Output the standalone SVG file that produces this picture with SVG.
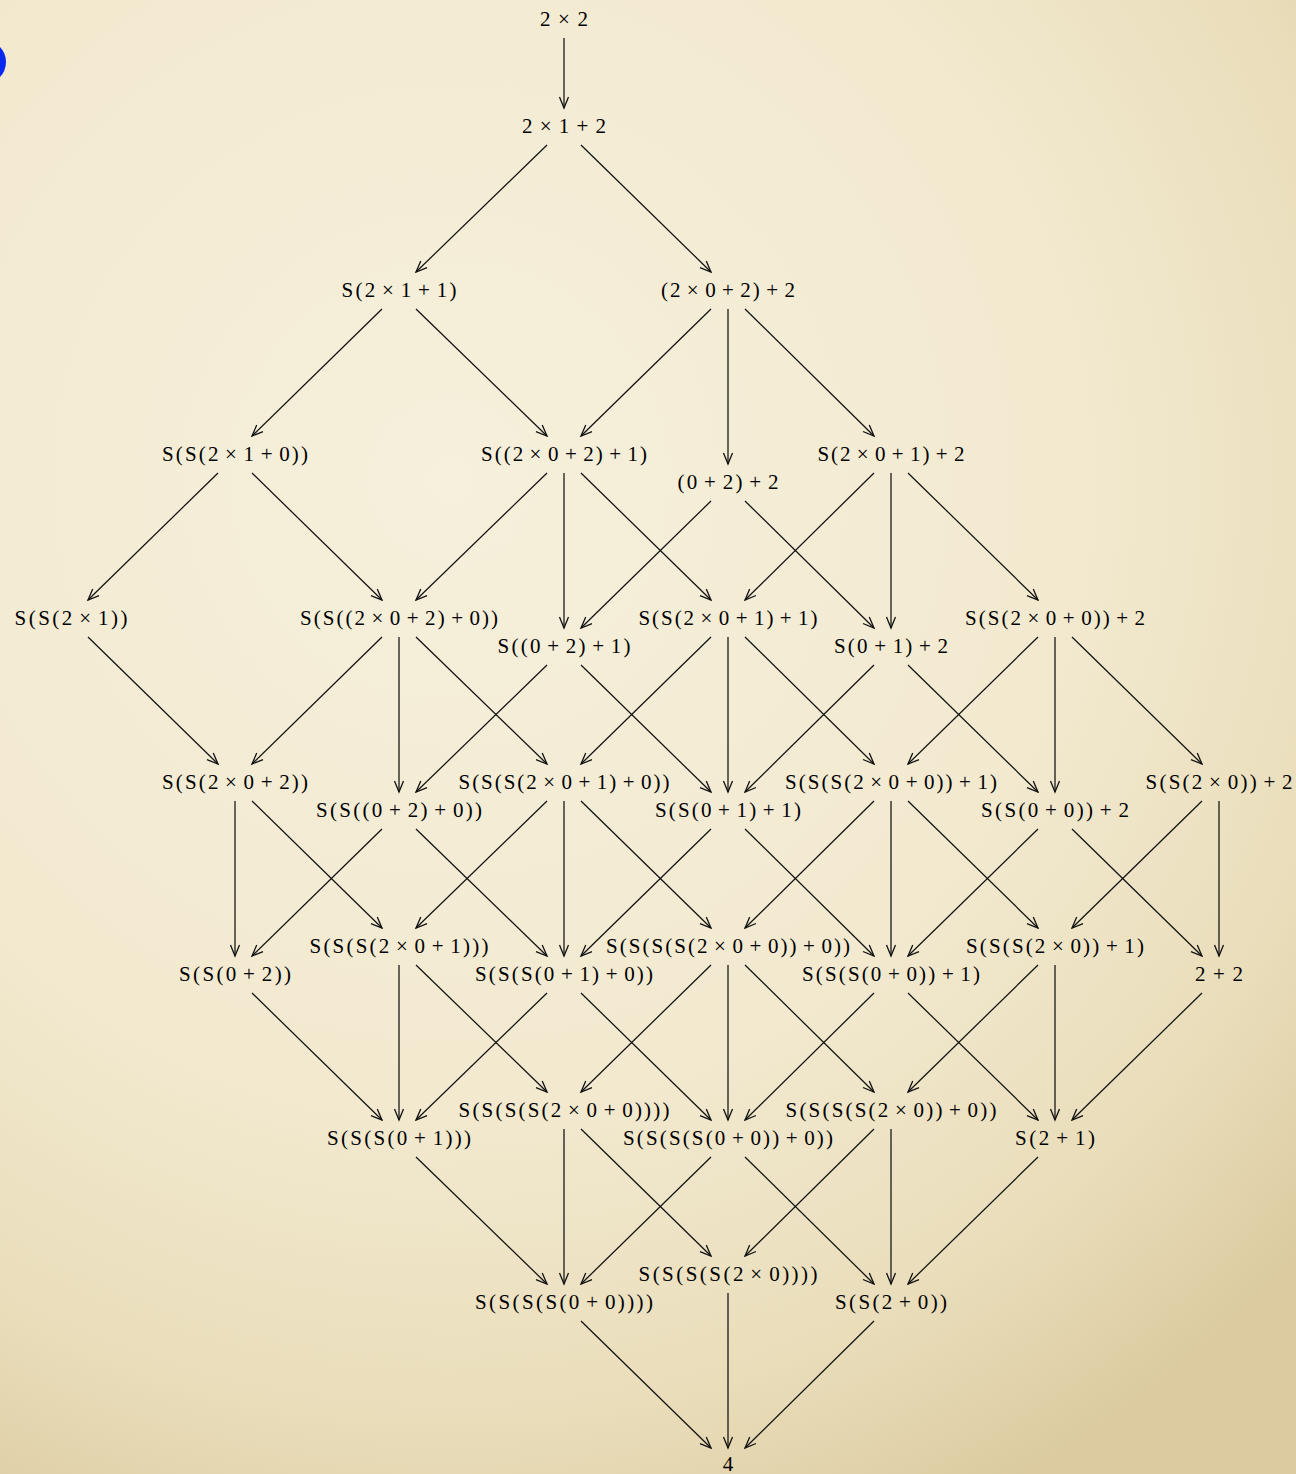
<svg xmlns="http://www.w3.org/2000/svg" width="1296" height="1474" viewBox="0 0 1296 1474">
<defs>
<radialGradient id="bg" cx="450" cy="480" r="1150" gradientUnits="userSpaceOnUse">
<stop offset="0" stop-color="#f6f0dc"/>
<stop offset="0.55" stop-color="#f2e9cf"/>
<stop offset="0.82" stop-color="#e9ddba"/>
<stop offset="1" stop-color="#dccba0"/>
</radialGradient>
<marker id="arr" viewBox="-12 -6 14 12" refX="0" refY="0" markerWidth="14" markerHeight="12" markerUnits="userSpaceOnUse" orient="auto">
<path d="M-11,-4.5 L0,0 L-11,4.5" fill="none" stroke="#111" stroke-width="1.3"/>
</marker>
<style>
text{font-family:"Liberation Serif","Times New Roman",serif;font-size:21px;fill:#000;text-anchor:middle}
.e line{stroke:#111;stroke-width:1.25;marker-end:url(#arr)}
</style>
</defs>
<rect x="0" y="0" width="1296" height="1474" fill="url(#bg)"/>
<circle cx="-16" cy="62" r="22" fill="#0a28f0"/>
<g id="connectors" class="e">
<line x1="564" y1="38" x2="564" y2="108"/>
<line x1="547" y1="145" x2="416" y2="272"/>
<line x1="581" y1="145" x2="711" y2="272"/>
<line x1="382" y1="309" x2="252" y2="436"/>
<line x1="416" y1="309" x2="547" y2="436"/>
<line x1="711" y1="309" x2="581" y2="436"/>
<line x1="728" y1="309" x2="728" y2="464"/>
<line x1="745" y1="309" x2="874" y2="436"/>
<line x1="218" y1="473" x2="88" y2="600"/>
<line x1="252" y1="473" x2="382" y2="600"/>
<line x1="547" y1="473" x2="416" y2="600"/>
<line x1="564" y1="473" x2="564" y2="628"/>
<line x1="581" y1="473" x2="711" y2="600"/>
<line x1="711" y1="501" x2="581" y2="628"/>
<line x1="745" y1="501" x2="874" y2="628"/>
<line x1="874" y1="473" x2="745" y2="600"/>
<line x1="891" y1="473" x2="891" y2="628"/>
<line x1="908" y1="473" x2="1038" y2="600"/>
<line x1="88" y1="637" x2="218" y2="764"/>
<line x1="382" y1="637" x2="252" y2="764"/>
<line x1="399" y1="637" x2="399" y2="792"/>
<line x1="416" y1="637" x2="547" y2="764"/>
<line x1="547" y1="665" x2="416" y2="792"/>
<line x1="581" y1="665" x2="711" y2="792"/>
<line x1="711" y1="637" x2="581" y2="764"/>
<line x1="728" y1="637" x2="728" y2="792"/>
<line x1="745" y1="637" x2="874" y2="764"/>
<line x1="874" y1="665" x2="745" y2="792"/>
<line x1="908" y1="665" x2="1038" y2="792"/>
<line x1="1038" y1="637" x2="908" y2="764"/>
<line x1="1055" y1="637" x2="1055" y2="792"/>
<line x1="1072" y1="637" x2="1202" y2="764"/>
<line x1="235" y1="801" x2="235" y2="956"/>
<line x1="252" y1="801" x2="382" y2="928"/>
<line x1="382" y1="829" x2="252" y2="956"/>
<line x1="416" y1="829" x2="547" y2="956"/>
<line x1="547" y1="801" x2="416" y2="928"/>
<line x1="564" y1="801" x2="564" y2="956"/>
<line x1="581" y1="801" x2="711" y2="928"/>
<line x1="711" y1="829" x2="581" y2="956"/>
<line x1="745" y1="829" x2="874" y2="956"/>
<line x1="874" y1="801" x2="745" y2="928"/>
<line x1="891" y1="801" x2="891" y2="956"/>
<line x1="908" y1="801" x2="1038" y2="928"/>
<line x1="1038" y1="829" x2="908" y2="956"/>
<line x1="1072" y1="829" x2="1202" y2="956"/>
<line x1="1202" y1="801" x2="1072" y2="928"/>
<line x1="1219" y1="801" x2="1219" y2="956"/>
<line x1="252" y1="993" x2="382" y2="1120"/>
<line x1="399" y1="965" x2="399" y2="1120"/>
<line x1="416" y1="965" x2="547" y2="1092"/>
<line x1="547" y1="993" x2="416" y2="1120"/>
<line x1="581" y1="993" x2="711" y2="1120"/>
<line x1="711" y1="965" x2="581" y2="1092"/>
<line x1="728" y1="965" x2="728" y2="1120"/>
<line x1="745" y1="965" x2="874" y2="1092"/>
<line x1="874" y1="993" x2="745" y2="1120"/>
<line x1="908" y1="993" x2="1038" y2="1120"/>
<line x1="1038" y1="965" x2="908" y2="1092"/>
<line x1="1055" y1="965" x2="1055" y2="1120"/>
<line x1="1202" y1="993" x2="1072" y2="1120"/>
<line x1="416" y1="1157" x2="547" y2="1284"/>
<line x1="564" y1="1129" x2="564" y2="1284"/>
<line x1="581" y1="1129" x2="711" y2="1256"/>
<line x1="711" y1="1157" x2="581" y2="1284"/>
<line x1="745" y1="1157" x2="874" y2="1284"/>
<line x1="874" y1="1129" x2="745" y2="1256"/>
<line x1="891" y1="1129" x2="891" y2="1284"/>
<line x1="1038" y1="1157" x2="908" y2="1284"/>
<line x1="581" y1="1321" x2="711" y2="1448"/>
<line x1="728" y1="1293" x2="728" y2="1448"/>
<line x1="874" y1="1321" x2="745" y2="1448"/>
</g>
<g id="n1"><text x="564" y="26" dx="0 4.5 4.5" textLength="48" lengthAdjust="spacing">2×2</text></g>
<g id="n2"><text x="564" y="133" dx="0 4.5 4.5 4.5 4.5" textLength="84" lengthAdjust="spacing">2×1+2</text></g>
<g id="n3"><text x="399" y="297" dx="0 0 0 4.5 4.5 4.5 4.5 0" textLength="115" lengthAdjust="spacing">S(2×1+1)</text></g>
<g id="n4"><text x="728" y="297" dx="0 0 4.5 4.5 4.5 4.5 0 4.5 4.5" textLength="134" lengthAdjust="spacing">(2×0+2)+2</text></g>
<g id="n5"><text x="235" y="461" dx="0 0 0 0 0 4.5 4.5 4.5 4.5 0 0" textLength="146" lengthAdjust="spacing">S(S(2×1+0))</text></g>
<g id="n6"><text x="564" y="461" dx="0 0 0 0 4.5 4.5 4.5 4.5 0 4.5 4.5 0" textLength="166" lengthAdjust="spacing">S((2×0+2)+1)</text></g>
<g id="n7"><text x="728" y="489" dx="0 0 4.5 4.5 0 4.5 4.5" textLength="101" lengthAdjust="spacing">(0+2)+2</text></g>
<g id="n8"><text x="891" y="461" dx="0 0 0 4.5 4.5 4.5 4.5 0 4.5 4.5" textLength="147" lengthAdjust="spacing">S(2×0+1)+2</text></g>
<g id="n9"><text x="71" y="625" dx="0 0 0 0 0 4.5 4.5 0 0" textLength="113" lengthAdjust="spacing">S(S(2×1))</text></g>
<g id="n10"><text x="399" y="625" dx="0 0 0 0 0 0 4.5 4.5 4.5 4.5 0 4.5 4.5 0 0" textLength="198" lengthAdjust="spacing">S(S((2×0+2)+0))</text></g>
<g id="n11"><text x="564" y="653" dx="0 0 0 0 4.5 4.5 0 4.5 4.5 0" textLength="133" lengthAdjust="spacing">S((0+2)+1)</text></g>
<g id="n12"><text x="728" y="625" dx="0 0 0 0 0 4.5 4.5 4.5 4.5 0 4.5 4.5 0" textLength="179" lengthAdjust="spacing">S(S(2×0+1)+1)</text></g>
<g id="n13"><text x="891" y="653" dx="0 0 0 4.5 4.5 0 4.5 4.5" textLength="114" lengthAdjust="spacing">S(0+1)+2</text></g>
<g id="n14"><text x="1055" y="625" dx="0 0 0 0 0 4.5 4.5 4.5 4.5 0 0 4.5 4.5" textLength="180" lengthAdjust="spacing">S(S(2×0+0))+2</text></g>
<g id="n15"><text x="235" y="789" dx="0 0 0 0 0 4.5 4.5 4.5 4.5 0 0" textLength="146" lengthAdjust="spacing">S(S(2×0+2))</text></g>
<g id="n16"><text x="399" y="817" dx="0 0 0 0 0 0 4.5 4.5 0 4.5 4.5 0 0" textLength="166" lengthAdjust="spacing">S(S((0+2)+0))</text></g>
<g id="n17"><text x="564" y="789" dx="0 0 0 0 0 0 0 4.5 4.5 4.5 4.5 0 4.5 4.5 0 0" textLength="211" lengthAdjust="spacing">S(S(S(2×0+1)+0))</text></g>
<g id="n18"><text x="728" y="817" dx="0 0 0 0 0 4.5 4.5 0 4.5 4.5 0" textLength="146" lengthAdjust="spacing">S(S(0+1)+1)</text></g>
<g id="n19"><text x="891" y="789" dx="0 0 0 0 0 0 0 4.5 4.5 4.5 4.5 0 0 4.5 4.5 0" textLength="212" lengthAdjust="spacing">S(S(S(2×0+0))+1)</text></g>
<g id="n20"><text x="1055" y="817" dx="0 0 0 0 0 4.5 4.5 0 0 4.5 4.5" textLength="148" lengthAdjust="spacing">S(S(0+0))+2</text></g>
<g id="n21"><text x="1219" y="789" dx="0 0 0 0 0 4.5 4.5 0 0 4.5 4.5" textLength="147" lengthAdjust="spacing">S(S(2×0))+2</text></g>
<g id="n22"><text x="235" y="981" dx="0 0 0 0 0 4.5 4.5 0 0" textLength="112" lengthAdjust="spacing">S(S(0+2))</text></g>
<g id="n23"><text x="399" y="953" dx="0 0 0 0 0 0 0 4.5 4.5 4.5 4.5 0 0 0" textLength="179" lengthAdjust="spacing">S(S(S(2×0+1)))</text></g>
<g id="n24"><text x="564" y="981" dx="0 0 0 0 0 0 0 4.5 4.5 0 4.5 4.5 0 0" textLength="178" lengthAdjust="spacing">S(S(S(0+1)+0))</text></g>
<g id="n25"><text x="728" y="953" dx="0 0 0 0 0 0 0 0 0 4.5 4.5 4.5 4.5 0 0 4.5 4.5 0 0" textLength="244" lengthAdjust="spacing">S(S(S(S(2×0+0))+0))</text></g>
<g id="n26"><text x="891" y="981" dx="0 0 0 0 0 0 0 4.5 4.5 0 0 4.5 4.5 0" textLength="178" lengthAdjust="spacing">S(S(S(0+0))+1)</text></g>
<g id="n27"><text x="1055" y="953" dx="0 0 0 0 0 0 0 4.5 4.5 0 0 4.5 4.5 0" textLength="178" lengthAdjust="spacing">S(S(S(2×0))+1)</text></g>
<g id="n28"><text x="1219" y="981" dx="0 4.5 4.5" textLength="48" lengthAdjust="spacing">2+2</text></g>
<g id="n29"><text x="399" y="1145" dx="0 0 0 0 0 0 0 4.5 4.5 0 0 0" textLength="144" lengthAdjust="spacing">S(S(S(0+1)))</text></g>
<g id="n30"><text x="564" y="1117" dx="0 0 0 0 0 0 0 0 0 4.5 4.5 4.5 4.5 0 0 0 0" textLength="211" lengthAdjust="spacing">S(S(S(S(2×0+0))))</text></g>
<g id="n31"><text x="728" y="1145" dx="0 0 0 0 0 0 0 0 0 4.5 4.5 0 0 4.5 4.5 0 0" textLength="210" lengthAdjust="spacing">S(S(S(S(0+0))+0))</text></g>
<g id="n32"><text x="891" y="1117" dx="0 0 0 0 0 0 0 0 0 4.5 4.5 0 0 4.5 4.5 0 0" textLength="211" lengthAdjust="spacing">S(S(S(S(2×0))+0))</text></g>
<g id="n33"><text x="1055" y="1145" dx="0 0 0 4.5 4.5 0" textLength="80" lengthAdjust="spacing">S(2+1)</text></g>
<g id="n34"><text x="564" y="1309" dx="0 0 0 0 0 0 0 0 0 4.5 4.5 0 0 0 0" textLength="178" lengthAdjust="spacing">S(S(S(S(0+0))))</text></g>
<g id="n35"><text x="728" y="1281" dx="0 0 0 0 0 0 0 0 0 4.5 4.5 0 0 0 0" textLength="179" lengthAdjust="spacing">S(S(S(S(2×0))))</text></g>
<g id="n36"><text x="891" y="1309" dx="0 0 0 0 0 4.5 4.5 0 0" textLength="112" lengthAdjust="spacing">S(S(2+0))</text></g>
<g id="n37"><text x="728" y="1471">4</text></g>
</svg>
